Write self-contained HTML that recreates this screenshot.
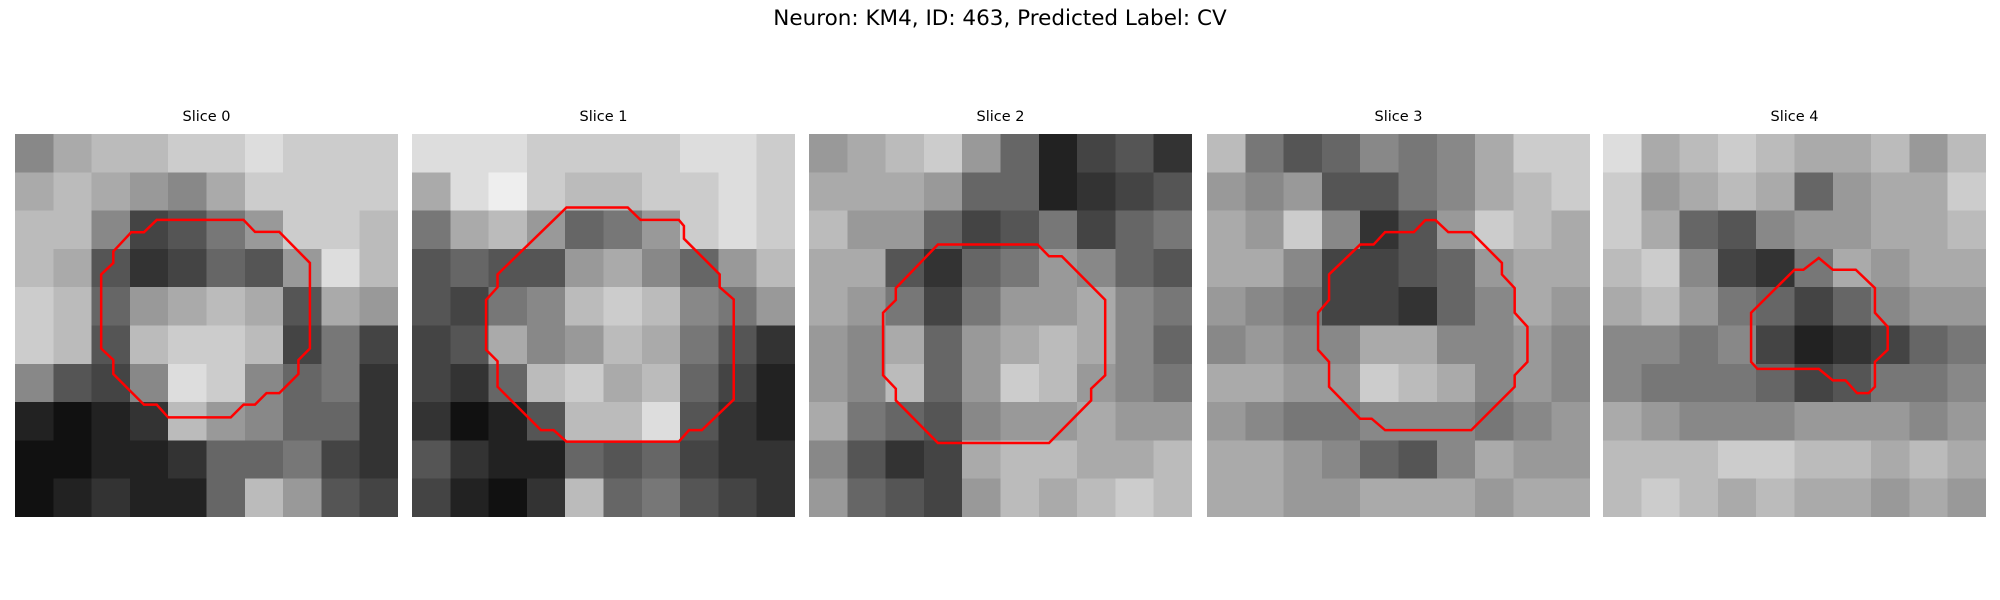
<!DOCTYPE html>
<html><head><meta charset="utf-8"><style>
body{margin:0;width:2000px;height:600px;background:#fff;position:relative;overflow:hidden;font-family:"DejaVu Sans","Liberation Sans",sans-serif;}
#title{position:absolute;top:6px;left:0;width:2000px;text-align:center;font-size:21.5px;color:#000;}
.lbl{position:absolute;top:109px;width:383px;text-align:center;font-size:14.5px;color:#000;}
svg.p{position:absolute;top:134px;width:383px;height:383px;}
</style></head><body>
<div id="title">Neuron: KM4, ID: 463, Predicted Label: CV</div>
<div id="panels"></div>
<script>
const panelX=[15,412,809,1207,1603];
const sliceLabels=["Slice 0","Slice 1","Slice 2","Slice 3","Slice 4"];
const img0=["8abbccdccc","aba98acccc","bb84579ccb","ba534659db","cb69aba5a9","cb5bccb474","8548dc8673","2123b98663","1122366743","123226b954"];
const img1=["dddccccddc","adecbbccdc","7ab9679cdc","56559a869b","5478bcb879","45a89ba753","436bcab642","3125bbd532","5322656433","4213b67543"];
const img2=["9abc962453","aaa9662345","b996457467","aa53679865","a974799a87","98a69aba86","98b69cb987","a765899a99","8534abbaab","96549babcb"];
const img3=["b756878acc","9895578abc","a9c8359cba","aa844569aa","98744368a9","8988aa8898","aa99cba898","9877888789","aa98658a99","aa99aaa9aa"];
const img4=["dabcbaab9b","c9aba69aac","ca65899aab","bc8437a9aa","ab97646899","8878423467","8777645778","a988899989","bbbccbbaba","bcbabaa9a9"];
const images=[img0,img1,img2,img3,img4];
const contour0=[[11.1,6.73],[17.9,6.73],[18.8,7.67],[20.7,7.67],[23.1,10.1],[23.1,16.8],[22.2,17.7],[22.2,18.8],[20.7,20.3],[19.7,20.3],[18.8,21.2],[17.9,21.2],[16.9,22.2],[12.0,22.2],[11.1,21.2],[10.1,21.2],[7.7,18.8],[7.7,17.7],[6.75,16.8],[6.75,11.0],[7.7,10.1],[7.7,9.2],[9.1,7.7],[10.1,7.7]];
const contour1=[[12.1,5.76],[16.9,5.76],[17.9,6.73],[20.9,6.73],[21.3,7.2],[21.3,8.2],[24.1,11.0],[24.1,12.0],[25.2,12.96],[25.2,20.8],[22.7,23.2],[21.7,23.2],[20.9,24.1],[12.1,24.1],[11.1,23.2],[10.1,23.2],[6.7,19.8],[6.7,17.8],[5.8,16.9],[5.8,13.0],[6.7,12.0],[6.7,11.0],[10.1,7.7],[11.1,6.73]];
const contour2=[[10.1,8.66],[17.9,8.66],[18.8,9.58],[19.8,9.58],[23.2,12.99],[23.2,18.9],[22.1,19.95],[22.1,20.87],[18.8,24.2],[10.1,24.2],[6.8,20.87],[6.8,19.95],[5.8,18.9],[5.8,14.0],[6.8,13.0],[6.8,12.07]];
const contour3=[[13.95,7.69],[16.2,7.69],[17.1,6.75],[17.9,6.75],[18.9,7.69],[20.7,7.69],[23.1,10.1],[23.1,11.0],[24.1,12.07],[24.1,14.0],[25.1,15.1],[25.1,17.85],[24.1,18.9],[24.1,19.8],[20.7,23.2],[13.95,23.2],[12.9,22.3],[12.0,22.3],[9.56,19.8],[9.56,17.85],[8.7,16.9],[8.7,14.0],[9.56,13.0],[9.56,11.0],[12.0,8.66],[13.05,8.66]];
const contour4=[[16.9,9.71],[18.0,10.63],[19.8,10.63],[21.3,12.07],[21.3,14.0],[22.3,15.1],[22.3,16.9],[21.3,17.85],[21.3,19.8],[20.8,20.3],[19.9,20.3],[19.0,19.3],[18.0,19.3],[16.9,18.4],[12.1,18.4],[11.6,17.85],[11.6,14.0],[15.0,10.63],[15.7,10.63]];
const contours=[contour0,contour1,contour2,contour3,contour4];
const NS="http://www.w3.org/2000/svg";
const root=document.getElementById('panels');
for(let p=0;p<5;p++){
  const lbl=document.createElement('div');
  lbl.className='lbl';lbl.style.left=panelX[p]+'px';lbl.textContent=sliceLabels[p];
  
  
  root.appendChild(lbl);
  const svg=document.createElementNS(NS,'svg');
  svg.setAttribute('class','p');svg.setAttribute('viewBox','0 0 30 30');svg.setAttribute('preserveAspectRatio','none');
  svg.setAttribute('shape-rendering','crispEdges');
  svg.style.left=panelX[p]+'px';
  
  
  const rows=images[p];
  for(let r=0;r<rows.length;r++){for(let c=0;c<rows[r].length;c++){
    const v=parseInt(rows[r][c],16)*17;
    const rect=document.createElementNS(NS,'rect');
    const s=30/rows.length, w=30/rows[r].length;
    rect.setAttribute('x',c*w);rect.setAttribute('y',r*s);rect.setAttribute('width',w+0.02);rect.setAttribute('height',s+0.02);
    rect.setAttribute('fill','rgb('+v+','+v+','+v+')');
    
    
    svg.appendChild(rect);
  }}
  const poly=document.createElementNS(NS,'polygon');
  poly.setAttribute('points',contours[p].map(q=>q[0]+','+q[1]).join(' '));
  poly.setAttribute('fill','none');poly.setAttribute('stroke','#ff0000');poly.setAttribute('stroke-width','2.5');
  poly.setAttribute('vector-effect','non-scaling-stroke');poly.setAttribute('shape-rendering','auto');
  
  
  svg.appendChild(poly);
  root.appendChild(svg);
}
</script>
</body></html>
